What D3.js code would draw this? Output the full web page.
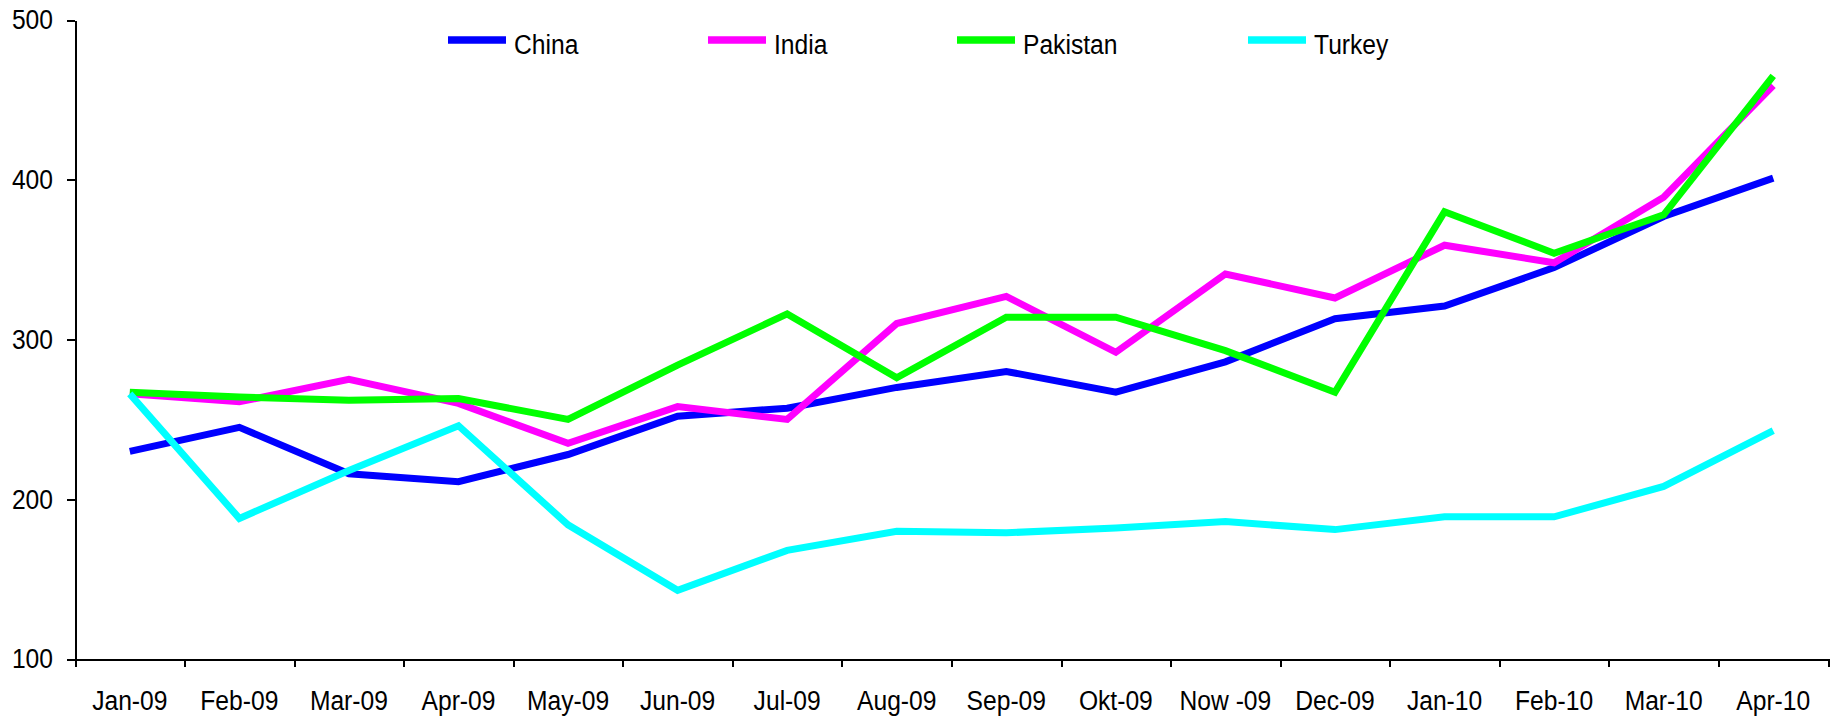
<!DOCTYPE html>
<html>
<head>
<meta charset="utf-8">
<script src="https://cdn.jsdelivr.net/npm/d3@7"></script>
<style>
  body { margin: 0; background: #fff; }
  svg { display: block; font-family: Arial, "Liberation Sans", sans-serif; }
  .axis path, .axis line { stroke: #000; stroke-width: 2px; shape-rendering: crispEdges; }
  .axis text { font-size: 28px; fill: #000; }
</style>
</head>
<body>
<svg width="1837" height="717"></svg>
<script>
'use strict';

// month labels on the x axis
var months = ['Jan-09', 'Feb-09', 'Mar-09', 'Apr-09', 'May-09', 'Jun-09', 'Jul-09', 'Aug-09',
  'Sep-09', 'Okt-09', 'Now -09', 'Dec-09', 'Jan-10', 'Feb-10', 'Mar-10', 'Apr-10'];

// values
var china    = [230, 245, 216, 211, 228, 252, 257, 270, 280, 267, 286, 313, 321, 345, 377, 401];
var india    = [266, 261, 275, 260, 235, 258, 250, 310, 327, 292, 341, 326, 359, 348, 389, 459];
var pakistan = [267, 264, 262, 263, 250, 284, 316, 276, 314, 314, 293, 267, 380, 354, 378, 465];
var turkey   = [266, 188, 218, 246, 184, 143, 168, 180, 179, 182, 186, 181, 189, 189, 208, 243];

var yTicks = [100, 200, 300, 400, 500];

var seriesNames = ['China', 'India', 'Pakistan', 'Turkey'];
var seriesColors = ['#0000ff', '#ff00ff', '#00ff00', '#00ffff'];
var seriesValues = [china, india, pakistan, turkey];

var svg = d3.select('svg');

// plot edges in pixels
var plot = {left: 75, right: 1828, top: 20, bottom: 659};
var squeeze = 'scale(0.88,1)'; // the original font is a bit narrower than Arial

var x = d3.scaleBand().domain(months).range([plot.left, plot.right]).padding(0);
var y = d3.scaleLinear().domain([100, 500]).range([plot.bottom, plot.top]);

// tick marks sit on the band edges, labels in the middle
var edges = d3.scaleLinear().domain([0, months.length]).range([plot.left, plot.right]);

svg.append('g')
  .attr('class', 'axis axis-x')
  .attr('transform', 'translate(0,' + plot.bottom + ')')
  .call(d3.axisBottom(edges).tickValues(d3.range(months.length + 1)).tickFormat('').tickSize(8).tickSizeOuter(0));

svg.append('g')
  .attr('class', 'axis axis-x-labels')
  .attr('transform', 'translate(0,' + plot.bottom + ')')
  .call(d3.axisBottom(x).tickSize(0))
  .call(function(g) { g.select('.domain').remove(); })
  .selectAll('text')
  .attr('y', 51)
  .attr('dy', 0)
  .attr('transform', squeeze);

svg.append('g')
  .attr('class', 'axis axis-y')
  .attr('transform', 'translate(' + plot.left + ',0)')
  .call(d3.axisLeft(y).tickValues(yTicks).tickFormat(d3.format('d')).tickSize(8).tickSizeOuter(0))
  .selectAll('text')
  .attr('x', -25)
  .attr('transform', squeeze);

/* Lines. */
var line = d3.line()
  .x(function(d, i) { return x(months[i]) + x.bandwidth() / 2; })
  .y(function(d) { return y(d); });

svg.append('g')
  .selectAll('path')
  .data(seriesValues)
  .enter()
  .append('path')
  .attr('fill', 'none')
  .attr('stroke', function(d, i) { return seriesColors[i]; })
  .attr('stroke-width', 7)
  .attr('stroke-linejoin', 'miter')
  .attr('d', line);

/* Legend. */
var legendX = [448, 708, 957, 1248];
var legend = svg.append('g')
  .selectAll('g')
  .data(seriesNames)
  .enter()
  .append('g')
  .attr('transform', function(d, i) { return 'translate(' + legendX[i] + ',40)'; });

legend.append('line')
  .attr('x1', 0)
  .attr('x2', 58)
  .attr('stroke', function(d, i) { return seriesColors[i]; })
  .attr('stroke-width', 7.5);

legend.append('text')
  .attr('x', 66 / 0.88)
  .attr('y', 14)
  .attr('transform', squeeze)
  .style('font-size', '28px')
  .text(function(d) { return d; });
</script>
</body>
</html>
